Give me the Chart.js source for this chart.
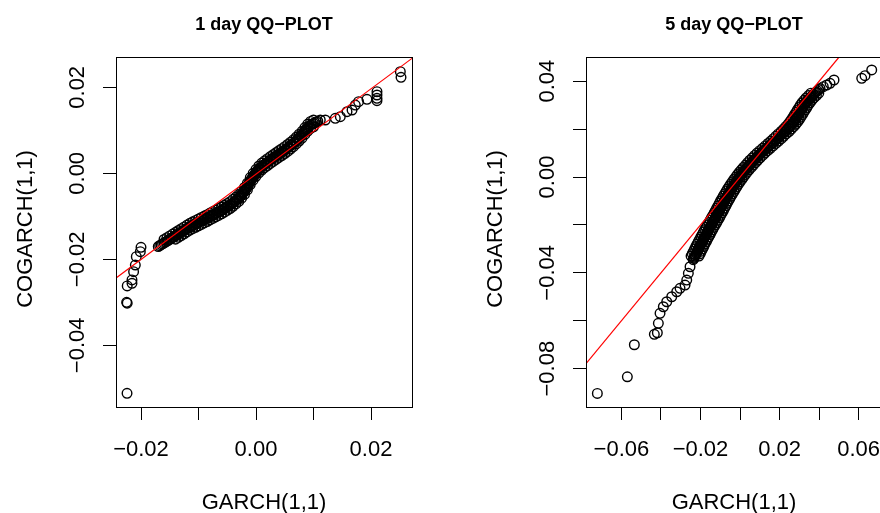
<!DOCTYPE html>
<html>
<head>
<meta charset="utf-8">
<script src="https://cdn.jsdelivr.net/npm/chart.js@4.4.1/dist/chart.umd.min.js"></script>
<style>
  html, body { margin: 0; padding: 0; background: #ffffff; overflow: hidden; width: 880px; height: 513px; }
  .panel { position: absolute; top: 0; width: 470px; height: 513px; }
</style>
</head>
<body>
<div class="panel" style="left:0px"><canvas id="c1" width="470" height="513"></canvas></div>
<div class="panel" style="left:470px"><canvas id="c5" width="470" height="513"></canvas></div>
<script>
// ================= Panel 1: 1 day QQ-PLOT =================
const day1TailX = [
  -0.02243,-0.02250,-0.02240,-0.02240,-0.02157,-0.02157,-0.02129,-0.02099,-0.02082,-0.02012,-0.02000,
  0.01118,0.01205,0.01379,0.01466,0.01583,0.01670,0.01727,0.01784,0.01930,0.02104,0.02104,0.02104,0.02104,0.02510,0.02522
];
const day1TailY = [
  -0.05116,-0.03000,-0.03020,-0.02620,-0.02558,-0.02480,-0.02288,-0.02133,-0.01940,-0.01823,-0.01721,
  0.01240,0.01240,0.01279,0.01316,0.01433,0.01472,0.01588,0.01665,0.01721,0.01898,0.01821,0.01744,0.01688,0.02363,0.02233
];
const day1BandX = [
  -0.0170,-0.01675,-0.0165,-0.01625,-0.0160,-0.01575,-0.0155,-0.01525,-0.0150,-0.01475,-0.0145,
  -0.01425,-0.0140,-0.01375,-0.0135,-0.01325,-0.0130,-0.01275,-0.0125,-0.01225,-0.0120,-0.01175,-0.0115,
  -0.01125,-0.0110,-0.01075,-0.0105,-0.01025,-0.0100,-0.00975,-0.0095,-0.00925,-0.0090,-0.00875,
  -0.0085,-0.00825,-0.0080,-0.00775,-0.0075,-0.00725,-0.0070,-0.00675,-0.0065,-0.00625,-0.0060,
  -0.00575,-0.0055,-0.00525,-0.0050,-0.00475,-0.0045,
  -0.00425,-0.0040,-0.00375,-0.0035,-0.00325,
  -0.0030,-0.00275,-0.0025,
  -0.00225,-0.0020,-0.00175,
  -0.0015,-0.00125,-0.0010,
  -0.00075,-0.0005,
  -0.00025,0.0,0.00025,
  0.0005,0.00075,0.0010,
  0.00125,0.0015,0.00175,0.0020,0.00225,
  0.0025,0.00275,0.0030,0.00325,0.0035,0.00375,
  0.0040,0.00425,0.0045,0.00475,0.0050,0.00525,
  0.0055,0.00575,0.0060,0.00625,0.0065,
  0.00675,0.0070,0.00725,0.0075,0.00775,0.0080,
  0.00825,0.0085,
  0.00875,0.0090,0.00925,
  0.0095,0.00975,0.0100,0.01025,0.0105,0.01075,
  -0.002875,-0.002625,-0.002375,-0.002125,-0.001875,-0.001625,-0.001375,-0.001125,-0.000875,-0.000625,
  -0.000375,-0.000125,0.000125,0.000375,0.000625,0.000875,0.008125,0.008375,0.008625
];
const day1BandY = [
  -0.01703,-0.01682,-0.01661,-0.01640,-0.01619,-0.01598,-0.01578,-0.01557,-0.01536,-0.01515,-0.01494,
  -0.01473,-0.01452,-0.01431,-0.01410,-0.01389,-0.01368,-0.01347,-0.01326,-0.01305,-0.01284,-0.01264,-0.01243,
  -0.01225,-0.01208,-0.01192,-0.01175,-0.01158,-0.01142,-0.01125,-0.01108,-0.01092,-0.01075,-0.01058,
  -0.01041,-0.01023,-0.01005,-0.00988,-0.00970,-0.00952,-0.00934,-0.00916,-0.00899,-0.00881,-0.00863,
  -0.00844,-0.00823,-0.00802,-0.00781,-0.00760,-0.00739,
  -0.00713,-0.00686,-0.00659,-0.00632,-0.00605,
  -0.00574,-0.00537,-0.00499,
  -0.00457,-0.00410,-0.00364,
  -0.00306,-0.00243,-0.00181,
  -0.00131,-0.00080,
  -0.00032,0.00010,0.00052,
  0.00090,0.00124,0.00157,
  0.00185,0.00210,0.00235,0.00260,0.00285,
  0.00310,0.00333,0.00356,0.00379,0.00402,0.00425,
  0.00448,0.00471,0.00494,0.00517,0.00540,0.00563,
  0.00590,0.00617,0.00644,0.00671,0.00698,
  0.00728,0.00762,0.00795,0.00829,0.00862,0.00896,
  0.00939,0.00984,
  0.01030,0.01064,0.01097,
  0.01127,0.01144,0.01160,0.01177,0.01194,0.01211,
  -0.00555,-0.00518,-0.00480,-0.00434,-0.00387,-0.00337,-0.00275,-0.00212,-0.00156,-0.00106,
  -0.00055,-0.00011,0.00031,0.00073,0.00107,0.00140,0.00916,0.00961,0.01007
];
const day1UpperX = [
  -0.0160,-0.0155,-0.0150,-0.0145,-0.0140,-0.0135,-0.0130,-0.0125,-0.0120,-0.0115,-0.0110,-0.0105,-0.0100,
  -0.0095,-0.0090,-0.0085,-0.0080,-0.0075,-0.0070,-0.0065,-0.0060,-0.0055,-0.0050,-0.0045,-0.0040,-0.0035,
  -0.0030,-0.0025,-0.0020,-0.0015,-0.0010,-0.0005,0.0000,0.0005,0.0010,0.0015,0.0020,0.0025,0.0030,0.0035,
  0.0040,0.0045,0.0050,0.0055,0.0060,0.0065,0.0070,0.0075,0.0080,0.0085,0.0090,0.0095,0.0100
];
const day1UpperY = [
  -0.01539,-0.01498,-0.01456,-0.01414,-0.01372,-0.01330,-0.01288,-0.01246,-0.01204,-0.01163,-0.01128,-0.01095,-0.01062,
  -0.01028,-0.00995,-0.00961,-0.00925,-0.00890,-0.00854,-0.00819,-0.00783,-0.00743,-0.00701,-0.00659,-0.00606,-0.00552,
  -0.00494,-0.00419,-0.00330,-0.00226,-0.00101,0.00000,0.00090,0.00170,0.00237,0.00290,0.00340,0.00390,0.00436,0.00482,
  0.00528,0.00574,0.00620,0.00670,0.00724,0.00778,0.00842,0.00909,0.00976,0.01064,0.01144,0.01207,0.01240
];
const day1LowerX = [
  -0.0140,-0.0135,-0.0130,-0.0125,-0.0120,-0.0115,-0.0110,-0.0105,-0.0100,
  -0.0095,-0.0090,-0.0085,-0.0080,-0.0075,-0.0070,-0.0065,-0.0060,-0.0055,-0.0050,-0.0045,-0.0040,-0.0035,
  -0.0030,-0.0025,-0.0020,-0.0015,-0.0010,-0.0005,0.0000,0.0005,0.0010,0.0015,0.0020,0.0025,0.0030,0.0035,
  0.0040,0.0045,0.0050,0.0055,0.0060,0.0065,0.0070,0.0075,0.0080,0.0085,0.0090,0.0095,0.0100
];
const day1LowerY = [
  -0.01532,-0.01490,-0.01448,-0.01406,-0.01364,-0.01323,-0.01288,-0.01255,-0.01222,
  -0.01188,-0.01155,-0.01121,-0.01085,-0.01050,-0.01014,-0.00979,-0.00943,-0.00903,-0.00861,-0.00819,-0.00766,-0.00712,
  -0.00654,-0.00579,-0.00490,-0.00386,-0.00261,-0.00160,-0.00070,0.00010,0.00077,0.00130,0.00180,0.00230,0.00276,0.00322,
  0.00368,0.00414,0.00460,0.00510,0.00564,0.00618,0.00682,0.00749,0.00816,0.00904,0.00984,0.01047,0.01080
];
const day1LineX = [-0.0244, 0.0272];
const day1LineY = [-0.0244, 0.0268];
const day1XRange = [-0.02435, 0.02713];
const day1YRange = [-0.05435, 0.02705];
const day1XTicks = [-0.02, -0.01, 0, 0.01, 0.02];
const day1XLabels = ['\u22120.02', '', '0.00', '', '0.02'];
const day1YTicks = [0.02, 0, -0.02, -0.04];
const day1YLabels = ['0.02', '0.00', '\u22120.02', '\u22120.04'];

// ================= Panel 2: 5 day QQ-PLOT =================
const day5TailX = [
  -0.07216,-0.05699,-0.05345,-0.04334,-0.04182,-0.04131,-0.04046,-0.03879,-0.03707,-0.03454,-0.03201,-0.03034,-0.02781,-0.02695,-0.02614,-0.02528,
  0.04046,0.04212,0.04384,0.04551,0.04753,0.06154,0.06321,0.06660
];
const day5TailY = [
  -0.09032,-0.08338,-0.07002,-0.06568,-0.06501,-0.06109,-0.05691,-0.05415,-0.05207,-0.04998,-0.04789,-0.04647,-0.04509,-0.04301,-0.04021,-0.03745,
  0.03695,0.03770,0.03841,0.03912,0.04050,0.04121,0.04230,0.04468
];
const day5BandY = [
  -0.0345,-0.0340,-0.0335,-0.0330,-0.0325,-0.0320,-0.0315,-0.0310,-0.0305,-0.0300,-0.0295,-0.0290,-0.0285,-0.0280,
  -0.0275,-0.0270,-0.0265,-0.0260,-0.0255,-0.0250,-0.0245,-0.0240,-0.0235,-0.0230,-0.0225,-0.0220,-0.0215,-0.0210,
  -0.0205,-0.0200,-0.0195,-0.0190,-0.0185,-0.0180,-0.0175,-0.0170,-0.0165,-0.0160,-0.0155,-0.0150,-0.0145,-0.0140,
  -0.0135,-0.0130,-0.0125,-0.0120,-0.0115,-0.0110,-0.0105,-0.0100,-0.0095,-0.0090,-0.0085,-0.0080,-0.0075,-0.0070,
  -0.0065,-0.0060,-0.0055,-0.0050,-0.0045,-0.0040,-0.0035,-0.0030,-0.0025,-0.0020,-0.0015,-0.0010,-0.0005,0.0000,
  0.0005,0.0010,0.0015,0.0020,0.0025,0.0030,0.0035,0.0040,0.0045,0.0050,0.0055,0.0060,0.0065,0.0070,
  0.0075,0.0080,0.0085,0.0090,0.0095,0.0100,0.0105,0.0110,0.0115,0.0120,0.0125,0.0130,0.0135,0.0140,
  0.0145,0.0150,0.0155,0.0160,0.0165,0.0170,0.0175,0.0180,0.0185,0.0190,0.0195,0.0200,0.0205,0.0210,
  0.0215,0.0220,0.0225,0.0230,0.0235,0.0240,0.0245,0.0250,0.0255,0.0260,0.0265,0.0270,0.0275,0.0280,
  0.0285,0.0290,0.0295,0.0300,0.0305,0.0310,0.0315,0.0320,0.0325,0.0330,0.0335,0.0340,0.0345,0.0350,
  0.0355,0.0360,0.0365
];
const day5BandX = [
  -0.02367,-0.02337,-0.02307,-0.02276,-0.02246,-0.02215,-0.02185,-0.02155,-0.02125,-0.02094,-0.02064,-0.02034,-0.02004,-0.01974,
  -0.01942,-0.01909,-0.01877,-0.01845,-0.01813,-0.01780,-0.01748,-0.01716,-0.01684,-0.01651,-0.01619,-0.01587,-0.01553,-0.01519,
  -0.01484,-0.01449,-0.01414,-0.01380,-0.01345,-0.01310,-0.01276,-0.01241,-0.01207,-0.01172,-0.01139,-0.01107,-0.01075,-0.01043,
  -0.01011,-0.00979,-0.00946,-0.00914,-0.00882,-0.00849,-0.00817,-0.00785,-0.00752,-0.00717,-0.00683,-0.00648,-0.00613,-0.00578,
  -0.00543,-0.00505,-0.00468,-0.00431,-0.00394,-0.00356,-0.00316,-0.00276,-0.00236,-0.00195,-0.00155,-0.00111,-0.00067,-0.00023,
  0.00021,0.00067,0.00115,0.00164,0.00212,0.00262,0.00315,0.00369,0.00423,0.00477,0.00530,0.00584,0.00638,0.00696,
  0.00757,0.00818,0.00878,0.00939,0.00999,0.01060,0.01128,0.01198,0.01267,0.01336,0.01405,0.01474,0.01543,0.01612,
  0.01682,0.01751,0.01820,0.01887,0.01947,0.02008,0.02068,0.02137,0.02206,0.02276,0.02337,0.02397,0.02458,0.02513,
  0.02567,0.02621,0.02675,0.02716,0.02757,0.02797,0.02838,0.02878,0.02916,0.02953,0.02990,0.03028,0.03065,0.03102,
  0.03139,0.03177,0.03214,0.03251,0.03289,0.03337,0.03386,0.03434,0.03482,0.03541,0.03602,0.03663,0.03724,0.03784,
  0.03845,0.03907,0.03980
];
const day5EdgeY = [
  -0.0330,-0.0320,-0.0310,-0.0300,-0.0290,-0.0280,-0.0270,-0.0260,-0.0250,-0.0240,-0.0230,-0.0220,-0.0210,-0.0200,
  -0.0190,-0.0180,-0.0170,-0.0160,-0.0150,-0.0140,-0.0130,-0.0120,-0.0110,-0.0100,-0.0090,-0.0080,-0.0070,-0.0060,
  -0.0050,-0.0040,-0.0030,-0.0020,-0.0010,0.0000,0.0010,0.0020,0.0030,0.0040,0.0050,0.0060,0.0070,0.0080,
  0.0090,0.0100,0.0110,0.0120,0.0130,0.0140,0.0150,0.0160,0.0170,0.0180,0.0190,0.0200,0.0210,0.0220,
  0.0230,0.0240,0.0250,0.0260,0.0270,0.0280,0.0290,0.0300,0.0310,0.0320,0.0330,0.0340,0.0350
];
const day5EdgeRightX = [
  -0.02076,-0.02015,-0.01955,-0.01894,-0.01834,-0.01774,-0.01709,-0.01645,-0.01580,-0.01516,-0.01451,-0.01387,-0.01319,-0.01249,
  -0.01180,-0.01110,-0.01041,-0.00972,-0.00907,-0.00843,-0.00779,-0.00714,-0.00649,-0.00585,-0.00517,-0.00448,-0.00378,-0.00305,
  -0.00231,-0.00156,-0.00076,0.00005,0.00089,0.00177,0.00267,0.00364,0.00462,0.00569,0.00677,0.00784,0.00896,0.01018,
  0.01139,0.01260,0.01398,0.01536,0.01674,0.01812,0.01951,0.02087,0.02208,0.02337,0.02476,0.02597,0.02713,0.02821,
  0.02916,0.02997,0.03078,0.03153,0.03228,0.03302,0.03377,0.03451,0.03537,0.03634,0.03741,0.03863,0.03984
];
const day5EdgeLeftX = [
  -0.02476,-0.02415,-0.02355,-0.02294,-0.02234,-0.02174,-0.02109,-0.02045,-0.01980,-0.01916,-0.01851,-0.01787,-0.01719,-0.01649,
  -0.01580,-0.01510,-0.01441,-0.01372,-0.01307,-0.01243,-0.01179,-0.01114,-0.01049,-0.00985,-0.00917,-0.00848,-0.00778,-0.00705,
  -0.00631,-0.00556,-0.00476,-0.00395,-0.00311,-0.00223,-0.00133,-0.00036,0.00062,0.00169,0.00277,0.00384,0.00496,0.00618,
  0.00739,0.00860,0.00998,0.01136,0.01274,0.01412,0.01551,0.01687,0.01808,0.01937,0.02076,0.02197,0.02313,0.02421,
  0.02516,0.02597,0.02678,0.02753,0.02828,0.02902,0.02977,0.03051,0.03137,0.03234,0.03341,0.03463,0.03584
];
const day5LineX = [-0.0779, 0.0501];
const day5LineY = [-0.0779, 0.0501];
const day5XRange = [-0.0779, 0.0718];
const day5YRange = [-0.0960, 0.0501];
const day5XTicks = [-0.06, -0.04, -0.02, 0, 0.02, 0.04, 0.06];
const day5XLabels = ['\u22120.06', '', '\u22120.02', '', '0.02', '', '0.06'];
const day5YTicks = [0.04, 0.02, 0, -0.02, -0.04, -0.06, -0.08];
const day5YLabels = ['0.04', '', '0.00', '', '\u22120.04', '', '\u22120.08'];

const titles = ['1 day QQ\u2212PLOT', '5 day QQ\u2212PLOT'];
const xTitle = 'GARCH(1,1)';
const yTitle = 'COGARCH(1,1)';

const FONT = '"Liberation Sans", Arial, Helvetica, sans-serif';

function toPts(xs, ys) {
  const n = Math.min(xs.length, ys.length);
  const out = [];
  for (let i = 0; i < n; i++) out.push({ x: xs[i], y: ys[i] });
  return out;
}

const textPlugin = {
  id: 'rtext',
  afterDraw(chart, args, opts) {
    const ctx = chart.ctx;
    const a = chart.chartArea;
    const xs = chart.scales.x, ys = chart.scales.y;
    ctx.save();
    ctx.strokeStyle = '#000';
    ctx.lineWidth = 1;
    const L = Math.round(a.left) + 0.5, T = Math.round(a.top) + 0.5;
    const R = Math.round(a.right) + 0.5, B = Math.round(a.bottom) + 0.5;
    ctx.strokeRect(L, T, R - L, B - T);
    ctx.fillStyle = '#000';
    ctx.font = 'bold 18px ' + FONT;
    ctx.textAlign = 'center';
    ctx.textBaseline = 'alphabetic';
    ctx.fillText(opts.title, (a.left + a.right) / 2, 30);
    ctx.font = '22px ' + FONT;
    opts.xTicks.forEach((v, i) => {
      if (opts.xLabels[i]) ctx.fillText(opts.xLabels[i], xs.getPixelForValue(v), 455.5);
    });
    ctx.fillText(xTitle, (a.left + a.right) / 2, 509);
    opts.yTicks.forEach((v, i) => {
      if (!opts.yLabels[i]) return;
      ctx.save();
      ctx.translate(83.5, ys.getPixelForValue(v));
      ctx.rotate(-Math.PI / 2);
      ctx.fillText(opts.yLabels[i], 0, 0);
      ctx.restore();
    });
    ctx.save();
    ctx.translate(31.5, (a.top + a.bottom) / 2 - 3);
    ctx.rotate(-Math.PI / 2);
    ctx.fillText(yTitle, 0, 0);
    ctx.restore();
    ctx.restore();
  }
};

function makeChart(id, pts, lx, ly, xr, yr, xt, xl, yt, yl, title) {
  return new Chart(document.getElementById(id), {
    data: {
      datasets: [
        {
          type: 'scatter',
          order: 1,
          data: pts,
          pointStyle: 'circle',
          pointRadius: 4.8,
          pointHoverRadius: 4.8,
          pointBorderWidth: 1.4,
          borderColor: '#000',
          backgroundColor: 'rgba(0,0,0,0)',
          clip: 6
        },
        {
          type: 'line',
          order: 0,
          data: toPts(lx, ly),
          borderColor: '#ff0000',
          borderWidth: 1.2,
          pointRadius: 0,
          fill: false,
          tension: 0,
          clip: 0
        }
      ]
    },
    options: {
      responsive: false,
      animation: false,
      devicePixelRatio: 1,
      events: [],
      layout: { padding: { top: 57, right: 58, bottom: 0, left: 0 } },
      plugins: {
        legend: { display: false },
        tooltip: { enabled: false },
        title: { display: false },
        rtext: { title: title, xTicks: xt, xLabels: xl, yTicks: yt, yLabels: yl }
      },
      scales: {
        x: {
          type: 'linear',
          min: xr[0], max: xr[1],
          afterBuildTicks: s => { s.ticks = xt.map(v => ({ value: v })); },
          afterFit: s => { s.height = 106; },
          grid: { display: true, drawOnChartArea: false, drawTicks: true, tickLength: 13, color: '#000', lineWidth: 1 },
          border: { display: false },
          ticks: { display: false }
        },
        y: {
          type: 'linear',
          min: yr[0], max: yr[1],
          afterBuildTicks: s => { s.ticks = yt.map(v => ({ value: v })); },
          afterFit: s => { s.width = 116; },
          grid: { display: true, drawOnChartArea: false, drawTicks: true, tickLength: 13, color: '#000', lineWidth: 1 },
          border: { display: false },
          ticks: { display: false }
        }
      }
    },
    plugins: [textPlugin]
  });
}

const day1Points = [].concat(
  toPts(day1TailX, day1TailY), toPts(day1BandX, day1BandY),
  toPts(day1UpperX, day1UpperY), toPts(day1LowerX, day1LowerY));
const day5Points = [].concat(
  toPts(day5TailX, day5TailY), toPts(day5BandX, day5BandY),
  toPts(day5EdgeRightX, day5EdgeY), toPts(day5EdgeLeftX, day5EdgeY));

makeChart('c1', day1Points, day1LineX, day1LineY, day1XRange, day1YRange,
  day1XTicks, day1XLabels, day1YTicks, day1YLabels, titles[0]);
makeChart('c5', day5Points, day5LineX, day5LineY, day5XRange, day5YRange,
  day5XTicks, day5XLabels, day5YTicks, day5YLabels, titles[1]);
</script>
</body>
</html>
